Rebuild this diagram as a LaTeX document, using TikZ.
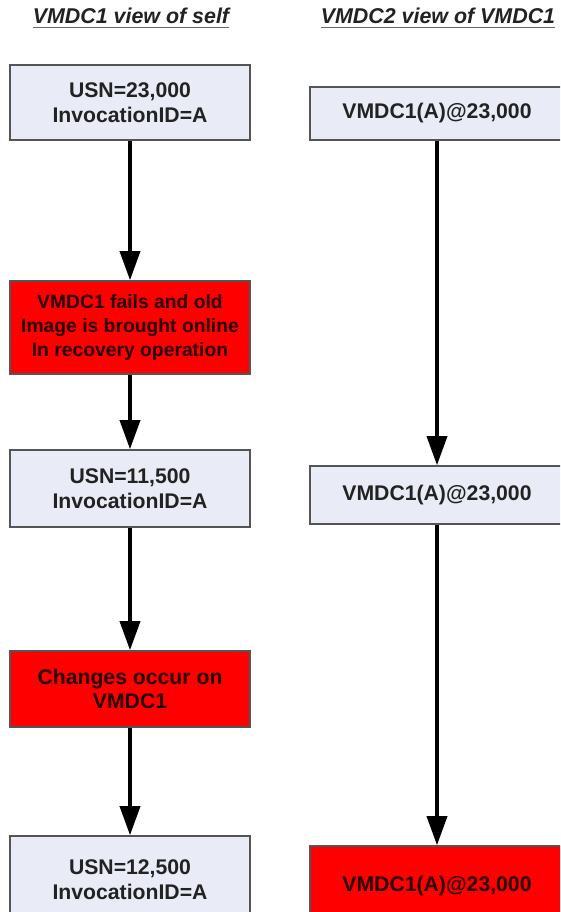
\documentclass[tikz,border=0pt]{standalone}
\usepackage{fontspec}
\setmainfont{Liberation Sans}
\usetikzlibrary{arrows.meta,positioning}
\definecolor{boxfill}{RGB}{233,236,246}
\definecolor{boxline}{RGB}{85,85,85}
\definecolor{txt}{RGB}{34,34,34}
\definecolor{redfill}{RGB}{255,0,0}
\begin{document}
\begin{tikzpicture}[x=1pt,y=-1pt,
  bluebox/.style={draw=boxline,line width=1.6pt,fill=boxfill,minimum width=240pt,
    align=center,inner sep=0pt,text=txt,font=\fontsize{21.2}{24.8}\selectfont\bfseries},
  redbox/.style={bluebox,fill=redfill,text=black!85!red},
  smalltext/.style={font=\fontsize{19.3}{24}\selectfont\bfseries},
  rightbox/.style={minimum width=254pt},
  flow/.style={line width=3.6pt,black,-{Triangle[width=20pt,length=29pt]}},
  title/.style={font=\fontsize{21.4}{24}\selectfont\bfseries\itshape,text=txt,inner sep=0pt,anchor=base}]
\useasboundingbox (0,0) rectangle (560,912);
\clip (0,0) rectangle (560,912);
% titles
\node[title] (t1) at (131,24) {VMDC1 view of self};
\node[title] (t2) at (438,24) {VMDC2 view of VMDC1};
\draw[line width=1.8pt,black!60] ([yshift=-3.5pt]t1.base west) -- ([yshift=-3.5pt]t1.base east);
\draw[line width=1.8pt,black!60] ([yshift=-3.5pt]t2.base west) -- ([yshift=-3.5pt]t2.base east);
% left column
\node[bluebox,minimum height=75pt] (b1) at (130,102.5) {USN=23,000\\InvocationID=A};
\node[redbox,smalltext,minimum height=93pt] (r1) at (130,327.5) {VMDC1 fails and old\\Image is brought online\\In recovery operation};
\node[bluebox,minimum height=77pt] (b2) at (130,488.5) {USN=11,500\\InvocationID=A};
\node[redbox,minimum height=76pt] (r2) at (130,689) {Changes occur on\\VMDC1};
\node[bluebox,minimum height=88pt] (b3) at (130,880) {USN=12,500\\InvocationID=A};
% right column
\node[bluebox,rightbox,minimum height=53pt] (c1) at (437,113.5) {VMDC1(A)@23,000};
\node[bluebox,rightbox,minimum height=58pt] (c2) at (437,495) {VMDC1(A)@23,000};
\node[redbox,rightbox,minimum height=80pt] (c3) at (437,886) {VMDC1(A)@23,000};
% arrows
\draw[flow] (b1) -- (r1);
\draw[flow] (r1) -- (b2);
\draw[flow] (b2) -- (r2);
\draw[flow] (r2) -- (b3);
\draw[flow] (c1) -- (c2);
\draw[flow] (c2) -- (c3);
\end{tikzpicture}
\end{document}
